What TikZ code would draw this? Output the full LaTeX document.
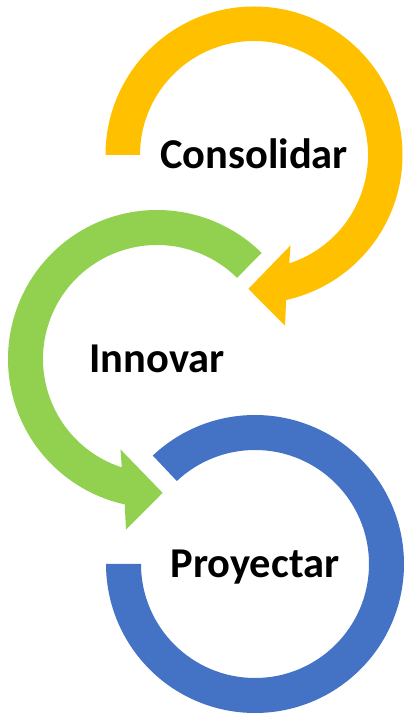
\documentclass[tikz,border=0pt]{standalone}
\usepackage{fontspec}
\setmainfont{Carlito}
\usetikzlibrary{calc}
\definecolor{yel}{HTML}{FFC000}
\definecolor{grn}{HTML}{92D050}
\definecolor{blu}{HTML}{4472C4}
\tikzset{t/.style = {font=\fontsize{42.5}{50}\selectfont\bfseries, inner sep=0pt, text height=27pt, text depth=0pt}}

\begin{document}
\begin{tikzpicture}[x=1pt, y=1pt]
    \useasboundingbox (0,0) rectangle (404,715);
    \foreach \n/\x/\y/\s in {c/254/560/Consolidar, i/157/356/Innovar, p/255/151/Proyectar}
        \node[t] (\n) at (\x,\y) {\s};

    \fill[yel] ($(c)+(180:148.5)$) arc[start angle=180, end angle=-77.5, radius=148.5]
        -- ($(c)+(-79.7:173.5)$) -- ($(c)+(-92.4:134)$) -- ($(c)+(-68:97.5)$)
        -- ($(c)+(-72:114)$) arc[start angle=-72, end angle=180, radius=114] -- cycle;
    \fill[grn] ($(i)+(45.4:149)$) arc[start angle=45.4, end angle=257.5, radius=149]
        -- ($(i)+(259.7:173.5)$) -- ($(i)+(272.4:134)$) -- ($(i)+(248:97.5)$)
        -- ($(i)+(252:114)$) arc[start angle=252, end angle=45.4, radius=114] -- cycle;
    \fill[blu] ($(p)+(133.3:149)$) arc[start angle=133.3, end angle=-180, radius=149]
        -- ($(p)+(180:114)$) arc[start angle=-180, end angle=133.3, radius=114] -- cycle;
\end{tikzpicture}
\end{document}
